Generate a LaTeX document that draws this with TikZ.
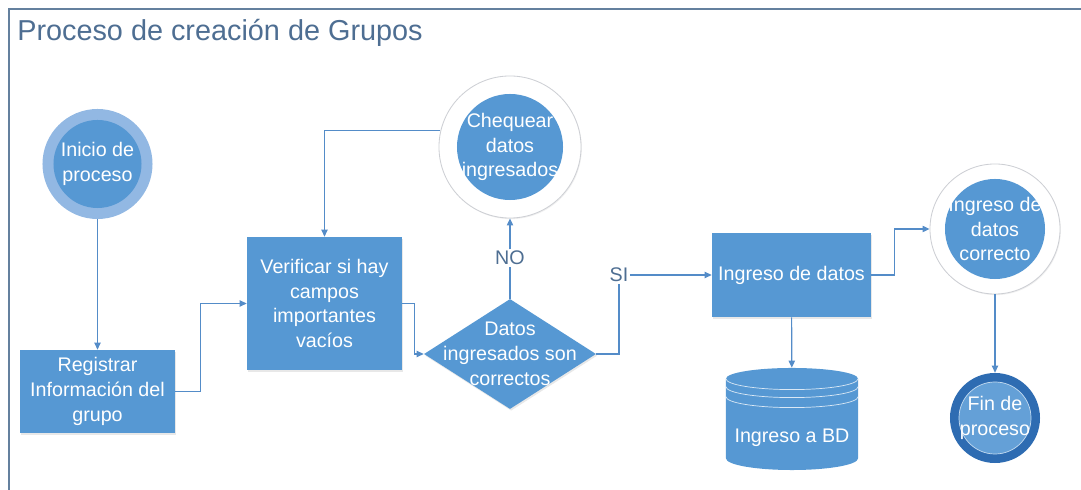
\documentclass[tikz,border=0pt]{standalone}
\usepackage{fontspec}
\setmainfont{Liberation Sans}
\usetikzlibrary{shapes.geometric,arrows.meta,shadows}
\definecolor{boxblue}{RGB}{86,152,211}
\definecolor{ringlight}{RGB}{146,184,227}
\definecolor{ringdark}{RGB}{46,108,178}
\definecolor{linkblue}{RGB}{84,140,200}
\definecolor{titleblue}{RGB}{78,110,146}
\definecolor{framegray}{RGB}{100,128,158}
\definecolor{ringgray}{RGB}{205,207,212}
\begin{document}
\begin{tikzpicture}[x=0.025cm, y=-0.025cm, every node/.style={align=center},
  txt/.style={text=white, font=\fontsize{14}{17.6}\selectfont},
  proc/.style={rectangle, fill=boxblue, txt, inner sep=0pt, drop shadow={shadow xshift=0.8pt, shadow yshift=-1.2pt, opacity=0.18}},
  decision/.style={diamond, fill=boxblue, inner sep=0pt, minimum width=4.3cm, minimum height=2.75cm, drop shadow={shadow xshift=0.8pt, shadow yshift=-1.2pt, opacity=0.18}},
  whitering/.style={circle, fill=white, draw=ringgray, line width=0.6pt, inner sep=0pt, txt, drop shadow={shadow xshift=0.6pt, shadow yshift=-0.8pt, opacity=0.12}, path picture={\fill[boxblue] (path picture bounding box.center) circle (#1);}},
  link/.style={draw=linkblue, line width=0.8pt, -{Triangle[length=5pt, width=4.5pt]}},
  plain/.style={draw=linkblue, line width=0.8pt},
  answer/.style={text=titleblue, font=\fontsize{14}{17}\selectfont, inner sep=1pt},
  dbline/.style={draw=white!78!boxblue, line width=0.5pt}]
\useasboundingbox (0,0) rectangle (1081,490);
\draw[framegray, line width=0.8pt] (9,490) -- (9,9) -- (1081,9);
\node (title) [anchor=base west, text=titleblue, font=\fontsize{20.5}{24}\selectfont, inner sep=0pt] at (17,41) {Proceso de creación de Grupos};

\node (inicio) [circle, fill=ringlight, minimum size=2.75cm, inner sep=0pt, txt, path picture={\fill[boxblue] (path picture bounding box.center) circle (1.1cm);}] at (97.5,164) {Inicio de\\proceso};
\node (reg) [proc, minimum width=3.875cm, minimum height=2.075cm] at (97.5,391.5) {Registrar\\Información del\\grupo};
\node (ver) [proc, minimum width=3.875cm, minimum height=3.325cm] at (324.5,303.5) {Verificar si hay\\campos\\importantes\\vacíos};
\node (dec) [decision, label={[txt]center:{Datos\\ingresados son\\correctos}}] at (510,354) {};
\node (no) [answer] at (510,258) {NO};
\node (chq) [whitering=1.325cm, minimum size=3.55cm] at (510,147) {Chequear\\datos\\ingresados};
\node (si) [answer] at (619,275) {SI};
\node (ing) [proc, minimum width=3.975cm, minimum height=2.1cm] at (791.5,275) {Ingreso de datos};
\node (bd) [minimum width=3.3cm, minimum height=2.55cm, inner sep=0pt, label={[txt, yshift=-0.47cm]center:Ingreso a BD}, path picture={
  \fill[boxblue] ([yshift=-0.27cm]path picture bounding box.north west) arc[start angle=180, end angle=0, x radius=1.65cm, y radius=0.27cm] -- ([yshift=0.29cm]path picture bounding box.south east) arc[start angle=0, end angle=-180, x radius=1.65cm, y radius=0.29cm] -- cycle;
  \foreach \d in {0.27,0.47,0.72}
    \draw[dbline] ([yshift=-\d cm]path picture bounding box.north west) arc[start angle=180, end angle=360, x radius=1.65cm, y radius=0.27cm];
}] at (792,419) {};
\node (cor) [whitering=1.25cm, minimum size=3.25cm] at (995,229) {Ingreso de\\datos\\correcto};
\node (fin) [circle, fill=ringdark, minimum size=2.25cm, inner sep=0pt, txt, path picture={\filldraw[fill=boxblue!92!white, draw=white!65!boxblue, line width=0.5pt] (path picture bounding box.center) circle (0.9cm);}] at (995,418) {Fin de\\proceso};

\draw[link] (inicio) -- (reg);
\draw[link] (reg.east) -- ++(25,0) |- (ver.west);
\draw[link] (ver.east) -- ++(12,0) |- (dec.west);
\draw[plain] (dec.north) -- (no);
\draw[link] (no) -- (chq);
\draw[link] (chq.167) -| (ver.north);
\draw[plain] (dec.east) -| (si.south);
\draw[link] (si) -- (ing);
\draw[link] (ing.east) -- ++(23,0) |- (cor.west);
\draw[link] (ing) -- (bd);
\draw[link] (cor) -- (fin);
\end{tikzpicture}
\end{document}
